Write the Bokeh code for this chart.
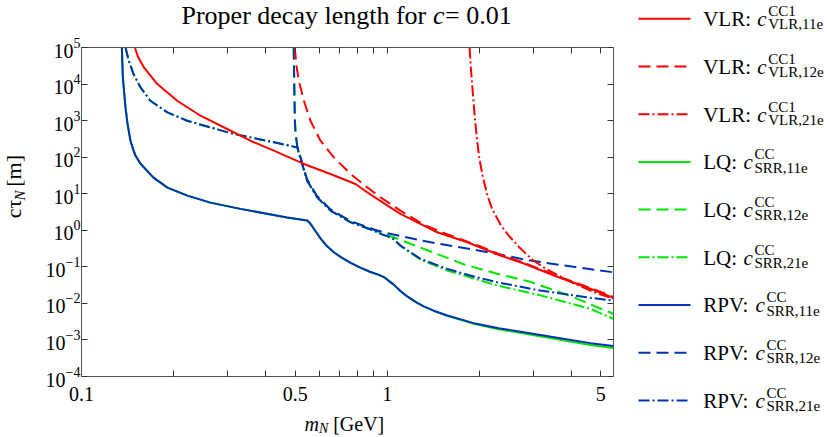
import math
from bokeh.plotting import figure
from bokeh.layouts import row, column
from bokeh.models import LogAxis, FixedTicker, CustomJSTickFormatter, Range1d
from bokeh.core.properties import value
from bokeh.embed import file_html
from bokeh.resources import INLINE

# ---------------- data: m_N [GeV] and c*tau_N [m] ----------------
m_vlr_11e = [0.1495, 0.153, 0.160, 0.177, 0.2056, 0.245, 0.2996, 0.357, 0.4256, 0.534, 0.652,
             0.788, 0.85, 0.904, 1.0, 1.105, 1.458, 1.827, 2.348, 2.8, 3.6, 4.62, 5.5]
ct_vlr_11e = [1e5, 5.6e4, 2.84e4, 1.0e4, 3.5e3, 1.36e3, 589, 282, 151, 65.2, 34.7,
              18.5, 11.7, 8.32, 4.79, 2.81, 0.881, 0.47, 0.204, 0.123, 0.0537, 0.0251, 0.0141]

m_vlr_12e = [0.4984, 0.505, 0.514, 0.534, 0.561, 0.605, 0.669, 0.759, 0.860, 0.951, 1.105,
             1.317, 1.572, 2.02, 2.348, 2.8, 3.6, 4.62, 5.5]
ct_vlr_12e = [1e5, 3.16e4, 1.23e4, 3.5e3, 993, 282, 98.9, 34.7, 15.0, 7.94, 3.45,
              1.42, 0.776, 0.363, 0.214, 0.13, 0.0562, 0.0263, 0.0151]

m_vlr_21e = [1.86, 1.88, 1.9, 1.93, 1.96, 2.0, 2.05, 2.12, 2.2, 2.35, 2.5, 2.73, 3.0, 3.3,
             3.6, 4.0, 4.62, 5.0, 5.5]
ct_vlr_21e = [1e5, 2.51e4, 7.94e3, 1.585e3, 398, 100, 31.6, 10, 3.98, 1.41, 0.708, 0.316,
              0.151, 0.0891, 0.0603, 0.038, 0.0224, 0.0174, 0.0135]

m_rpv_11e = [0.1355, 0.1365, 0.1375, 0.1393, 0.1415, 0.1446, 0.1475, 0.150, 0.156, 0.172,
             0.191, 0.222, 0.264, 0.331, 0.40, 0.47, 0.547, 0.556, 0.565, 0.58, 0.605, 0.63,
             0.669, 0.71, 0.759, 0.82, 0.882, 0.94, 0.975, 1.048, 1.105, 1.163, 1.25, 1.317,
             1.42, 1.572, 1.92, 2.317, 2.80, 3.60, 4.62, 5.5]
ct_rpv_11e = [1e5, 1.58e4, 7.9e3, 2.29e3, 794, 282, 166, 112, 66, 27.5,
              14.7, 8.87, 5.71, 3.85, 2.88, 2.24, 1.84, 1.66, 1.38, 1.0, 0.603, 0.398,
              0.251, 0.178, 0.129, 0.0933, 0.0724, 0.0603, 0.0525, 0.0331, 0.0219, 0.0155,
              0.0105, 0.00832, 0.00631, 0.00468, 0.00288, 0.00209, 0.00163, 0.00115,
              0.000818, 0.000684]

m_lq_11e = [0.1355, 0.1365, 0.1375, 0.1393, 0.1415, 0.1446, 0.1475, 0.150, 0.156, 0.172,
            0.191, 0.222, 0.264, 0.331, 0.40, 0.47, 0.547, 0.556, 0.565, 0.58, 0.605, 0.63,
            0.669, 0.71, 0.759, 0.82, 0.882, 0.94, 0.975, 1.048, 1.105, 1.163, 1.25, 1.317,
            1.42, 1.572, 1.92, 2.317, 2.80, 3.60, 4.62, 5.5]
ct_lq_11e = [1e5, 1.58e4, 7.9e3, 2.29e3, 794, 282, 166, 112, 66, 27.5,
             14.7, 8.87, 5.71, 3.85, 2.88, 2.24, 1.84, 1.66, 1.38, 1.0, 0.603, 0.398,
             0.251, 0.178, 0.129, 0.0933, 0.0724, 0.0603, 0.0525, 0.0331, 0.0219, 0.0155,
             0.0105, 0.00832, 0.00625, 0.00457, 0.00275, 0.00195, 0.00151, 0.00105,
             0.000724, 0.000603]

m_rpv_12e = [0.4945, 0.4960, 0.4975, 0.499, 0.502, 0.508, 0.527, 0.547, 0.59, 0.652, 0.759,
             0.904, 1.0, 1.386, 1.92, 2.29, 2.94, 4.07, 5.5]
ct_rpv_12e = [1e5, 2e4, 3.98e3, 1e3, 398, 200, 69.2, 24.5, 8.51, 3.72, 1.78,
              1.047, 0.832, 0.468, 0.295, 0.224, 0.148, 0.1, 0.0708]

m_lq_12e = [0.4945, 0.4960, 0.4975, 0.499, 0.502, 0.508, 0.527, 0.547, 0.59, 0.652, 0.759,
            0.904, 0.951, 1.048, 1.386, 1.78, 2.29, 2.94, 4.07, 5.5]
ct_lq_12e = [1e5, 2e4, 3.98e3, 1e3, 398, 200, 69.2, 24.5, 8.51, 3.72, 1.78,
             1.047, 0.871, 0.646, 0.263, 0.1175, 0.0646, 0.0389, 0.0148, 0.00513]

m_rpv_21e = [0.1393, 0.1428, 0.148, 0.156, 0.168, 0.191, 0.2217, 0.264, 0.315, 0.357, 0.43,
             0.508, 0.527, 0.547, 0.59, 0.652, 0.759, 0.904, 0.951, 1.0, 1.05, 1.105, 1.285,
             1.572, 1.92, 2.29, 3.17, 4.62, 5.5]
ct_rpv_21e = [1e5, 4.33e4, 1.875e4, 8.07e3, 3.5e3, 1.675e3, 993, 652, 431, 348, 251,
              185, 65.2, 22.8, 7.98, 3.45, 1.656, 0.982, 0.798, 0.692, 0.575, 0.382, 0.1656,
              0.0881, 0.0543, 0.038, 0.0224, 0.01422, 0.01189]

m_lq_21e = [0.1393, 0.1428, 0.148, 0.156, 0.168, 0.191, 0.2217, 0.264, 0.315, 0.357, 0.43,
            0.508, 0.527, 0.547, 0.59, 0.652, 0.759, 0.904, 0.951, 1.0, 1.05, 1.105, 1.285,
            1.572, 2.29, 3.17, 4.62, 5.5]
ct_lq_21e = [1e5, 4.33e4, 1.875e4, 8.07e3, 3.5e3, 1.675e3, 993, 652, 431, 348, 251,
             185, 65.2, 22.8, 7.98, 3.45, 1.656, 0.982, 0.798, 0.692, 0.575, 0.372, 0.158,
             0.0794, 0.0309, 0.0166, 0.00708, 0.0038]

x_ticks = [0.1, 0.2, 0.3, 0.4, 0.5, 0.6, 0.7, 0.8, 0.9, 1, 2, 3, 4, 5]
x_tick_labels = ["0.1", "0.5", "1", "5"]
y_ticks = [1e-4, 1e-3, 1e-2, 1e-1, 1, 1e1, 1e2, 1e3, 1e4, 1e5]

title_parts = ["Proper decay length for", "c", "= 0.01"]
xlabel_parts = ["m", "N", "[GeV]"]
ylabel_parts = ["cτ", "N", "[m]"]

legend_groups = ["VLR:", "VLR:", "VLR:", "LQ:", "LQ:", "LQ:", "RPV:", "RPV:", "RPV:"]
legend_sups = ["CC1", "CC1", "CC1", "CC", "CC", "CC", "CC", "CC", "CC"]
legend_subs = ["VLR,11e", "VLR,12e", "VLR,21e", "SRR,11e", "SRR,12e", "SRR,21e",
               "SRR,11e", "SRR,12e", "SRR,21e"]

# ---------------- styles ----------------
RED, GREEN, BLUE = "#ff0000", "#00e600", "#0033b3"
DASH, DASHDOT = "12 6", "11 3 2 3"
FONT = "Liberation Serif"
AX = "#555555"
MID = 0.338  # distance (in em) from text middle to its baseline

series = [
    (m_lq_11e, ct_lq_11e, GREEN, "solid"),
    (m_lq_12e, ct_lq_12e, GREEN, DASH),
    (m_lq_21e, ct_lq_21e, GREEN, DASHDOT),
    (m_rpv_11e, ct_rpv_11e, BLUE, "solid"),
    (m_rpv_12e, ct_rpv_12e, BLUE, DASH),
    (m_rpv_21e, ct_rpv_21e, BLUE, DASHDOT),
    (m_vlr_11e, ct_vlr_11e, RED, "solid"),
    (m_vlr_12e, ct_vlr_12e, RED, DASH),
    (m_vlr_21e, ct_vlr_21e, RED, DASHDOT),
]
legend_styles = [(RED, "solid"), (RED, DASH), (RED, DASHDOT),
                 (GREEN, "solid"), (GREEN, DASH), (GREEN, DASHDOT),
                 (BLUE, "solid"), (BLUE, DASH), (BLUE, DASHDOT)]

# ---------------- sizes (page has no margin in Bokeh's template) ----------------
TITLE_H, MAIN_H, XLAB_H = 36, 374, 27
YLAB_W, MAIN_W, LEG_W = 28, 593, 206
LEFT_W = YLAB_W + MAIN_W
TOTAL_H = TITLE_H + MAIN_H + XLAB_H

p = figure(x_axis_type="log", y_axis_type="log",
           x_range=Range1d(0.1, 5.5), y_range=Range1d(1e-4, 1e5),
           width=MAIN_W, height=MAIN_H, title=None,
           min_border_left=53, min_border_right=8, min_border_top=11, min_border_bottom=34,
           output_backend="svg", toolbar_location=None,
           background_fill_color="white", border_fill_color="white")
p.grid.visible = False
p.outline_line_color = None

for m, ct, col, dash in series:
    p.line(m, ct, line_color=col, line_width=2, line_dash=dash)

xfmt = CustomJSTickFormatter(args=dict(labels=x_tick_labels), code="""
    const k = String(Math.round(tick * 10) / 10);
    return labels.includes(k) ? k : "";
""")


def style_axis(ax):
    ax.axis_line_color = AX
    ax.axis_line_width = 1
    ax.major_tick_line_color = "#333333"
    ax.major_tick_in = 6
    ax.major_tick_out = 0
    ax.minor_tick_in = 0
    ax.minor_tick_out = 0
    ax.major_label_text_font = FONT
    ax.major_label_text_font_size = "20px"
    ax.major_label_text_color = "black"


xa = p.xaxis[0]
xa.ticker = FixedTicker(ticks=x_ticks, minor_ticks=[])
xa.formatter = xfmt
style_axis(xa)
xa.major_label_standoff = 10

ya = p.yaxis[0]
ya.ticker = FixedTicker(ticks=y_ticks, minor_ticks=[])
style_axis(ya)
ya.major_label_standoff = 1

for loc, ticks in (("above", x_ticks), ("right", y_ticks)):
    ax = LogAxis(ticker=FixedTicker(ticks=ticks, minor_ticks=[]),
                 formatter=CustomJSTickFormatter(code="return '';"))
    style_axis(ax)
    ax.major_label_text_font_size = "0px"
    ax.major_label_standoff = 0
    p.add_layout(ax, loc)


def text_panel(w, h, flip=True):
    f = figure(x_range=Range1d(0, w), y_range=Range1d(h, 0) if flip else Range1d(0, h),
               width=w, height=h, min_border=0, title=None,
               output_backend="svg", toolbar_location=None,
               x_axis_location=None, y_axis_location=None,
               background_fill_color="white", border_fill_color="white")
    f.grid.visible = False
    f.outline_line_color = None
    return f


def put(f, x, y, s, px, style="normal", angle=0.0, flip=True):
    """Place text whose alphabetic baseline sits at (x, y); y grows downward when flip."""
    shift = MID * px
    if angle == 0.0:
        ym = y - shift if flip else y + shift
        xm = x
    else:  # rotated 90 deg counter-clockwise: text "up" points to -x
        xm, ym = x - shift, y
    f.text([xm], [ym], text=[s], text_font=value(FONT), text_font_size=value(f"{px}px"),
           text_font_style=style, text_baseline="middle", text_align="left",
           angle=angle, text_color="black")


# title panel (y measured from top)
tfig = text_panel(LEFT_W, TITLE_H)
put(tfig, 181, 24, title_parts[0], 26)
put(tfig, 432.5, 24, title_parts[1], 26, "italic")
put(tfig, 444.5, 24, title_parts[2], 26)

# y-label panel (y measured from bottom, text rotated)
yfig = text_panel(YLAB_W, MAIN_H, flip=False)
put(yfig, 20.7, 180, ylabel_parts[0], 22, angle=math.pi / 2, flip=False)
put(yfig, 24.3, 200.2, ylabel_parts[1], 15, "italic", angle=math.pi / 2, flip=False)
put(yfig, 20.7, 215.7, ylabel_parts[2], 22, angle=math.pi / 2, flip=False)

# x-label panel (y measured from top)
xfig = text_panel(LEFT_W, XLAB_H)
put(xfig, 304, 20, xlabel_parts[0], 20, "italic")
put(xfig, 318.4, 23.2, xlabel_parts[1], 14, "italic")
put(xfig, 332.7, 20, xlabel_parts[2], 20)

# legend panel (y measured from top)
leg = text_panel(LEG_W, TOTAL_H)
c_offset = {"VLR:": 54, "LQ:": 40.3, "RPV:": 52.3}
for i, (grp, sup, sub) in enumerate(zip(legend_groups, legend_sups, legend_subs)):
    yl = 18.3 + 47.7 * i
    col, dash = legend_styles[i]
    leg.line([17, 69], [yl, yl], line_color=col, line_width=2, line_dash=dash)
    x0 = 81.7
    xc = x0 + c_offset[grp]
    put(leg, x0, yl + 7.4, grp, 21)
    put(leg, xc, yl + 7.4, "c", 21, "italic")
    put(leg, xc + 11, yl - 2.6, sup, 15)
    put(leg, xc + 11, yl + 10.7, sub, 15)

layout = row(column(tfig, row(yfig, p), xfig), leg)
open("out.html", "w").write(file_html(layout, INLINE))
